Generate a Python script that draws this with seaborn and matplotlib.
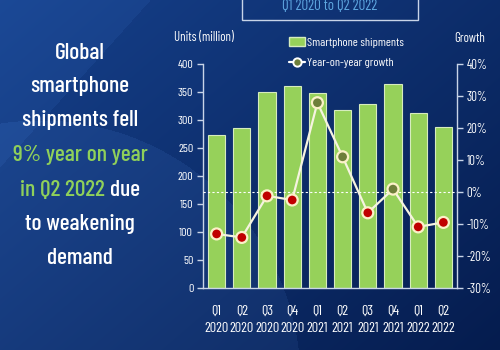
import numpy as np
import pandas as pd
import matplotlib
matplotlib.use("Agg")
import matplotlib.pyplot as plt
import seaborn as sns
from matplotlib.lines import Line2D
from matplotlib.patches import Patch, Rectangle
from matplotlib import font_manager
from matplotlib.textpath import TextPath
from matplotlib.font_manager import FontProperties

quarters = ["Q1\n2020", "Q2\n2020", "Q3\n2020", "Q4\n2020", "Q1\n2021",
            "Q2\n2021", "Q3\n2021", "Q4\n2021", "Q1\n2022", "Q2\n2022"]
shipments = [274, 286, 350, 361, 349, 317, 328, 365, 312, 288]
growth = [-13.1, -14.2, -1.2, -2.5, 27.9, 11.0, -6.5, 0.9, -10.9, -9.5]
left_ticks = [0, 50, 100, 150, 200, 250, 300, 350, 400]
right_ticks = [-30, -20, -10, 0, 10, 20, 30, 40]

sns.set_theme(style="white")
names = {f.name for f in font_manager.fontManager.ttflist}
fam = "DejaVu Sans"
for cand in ["Barlow Condensed", "Roboto Condensed", "Asap Condensed", "Archivo Narrow",
             "Liberation Sans Narrow", "Carlito"]:
    if cand in names:
        fam = cand
        break
plt.rcParams["font.family"] = [fam, "DejaVu Sans"]
plt.rcParams["font.weight"] = "normal"

W, H = 500, 350
fig = plt.figure(figsize=(5, 3.5), dpi=100)
renderer = fig.canvas.get_renderer()
fp = FontProperties(family=[fam, "DejaVu Sans"])
cap10 = TextPath((0, 0), "H", size=10, prop=fp).get_extents().height * 100 / 72.0


def cap_fit(px):
    return 10.0 * px / cap10


fs_xt = cap_fit(10.0)
fs_yt = cap_fit(8.5)
fs_rt = cap_fit(9.0)
fs_lab = cap_fit(9.0)
fs_leg = cap_fit(8.6)
fs_big = cap_fit(16.5)
fs_title = cap_fit(10.5)

# background gradient
bg = fig.add_axes([0, 0, 1, 1], zorder=-10)
yy, xx = np.mgrid[0:H, 0:W]
c1 = np.array([0x16, 0x41, 0x8c]) / 255.0
c2 = np.array([0x05, 0x1c, 0x4e]) / 255.0
t = np.clip((xx / W) * 0.55 + (yy / H) * 0.45, 0, 1)[..., None]
img = c1 * (1 - t) + c2 * t
d = np.sqrt(((xx - 40) / 260.0) ** 2 + ((yy - 380) / 260.0) ** 2)
img = img + (d < 1)[..., None] * np.array([0.03, 0.04, 0.05])
img = img + ((xx + yy * 0.9) < 150)[..., None] * np.array([0.02, 0.03, 0.04])
img = np.clip(img, 0, 1)
bg.imshow(img, extent=[0, W, H, 0], aspect="auto")
bg.set_xlim(0, W); bg.set_ylim(H, 0); bg.axis("off")
bg.add_patch(Rectangle((242, -10), 176, 30, fill=False, ec="#c8d4e8", lw=1.0))
bg.text(330, 9.5, "Q1 2020 to Q2 2022", color="#5ea6e0", fontsize=fs_title, ha="center", va="baseline")

ax = fig.add_axes([203 / W, 1 - 288 / H, 254 / W, 224 / H])
ax.patch.set_alpha(0)
df = pd.DataFrame({"quarter": quarters, "shipments": shipments, "growth": growth})
sns.barplot(data=df, x="quarter", y="shipments", color="#96d15a", width=0.69,
            edgecolor="#d6ecbe", linewidth=0.8, saturation=1, ax=ax)
ax.set_ylim(0, 400)
ax.set_xlim(-0.54, 9.54)
ax.set_yticks(left_ticks)
ax.set_xlabel(""); ax.set_ylabel("")
for s in ["left", "bottom"]:
    ax.spines[s].set_color("#c8d4e8"); ax.spines[s].set_linewidth(1)
ax.spines["top"].set_visible(False); ax.spines["right"].set_visible(False)
ax.tick_params(axis="y", colors="#c8d4e8", labelcolor="white", direction="out",
               length=4, width=1, left=True, labelsize=fs_yt, pad=3)
ax.tick_params(axis="x", length=0, labelcolor="white", labelsize=fs_xt, pad=12)
for lab in ax.get_xticklabels():
    lab.set_linespacing(1.45)

ax2 = ax.twinx()
ax2.set_ylim(-30, 40)
ax2.set_yticks(right_ticks)
ax2.set_yticklabels([f"{v}%" for v in right_ticks])
ax2.axhline(0, color="white", lw=0.8, ls=(0, (2, 2)), zorder=1)
sns.lineplot(x=np.arange(len(growth)), y=growth, color="#f6f3e0", lw=1.6, ax=ax2, zorder=2)
df["sign"] = np.where(df["growth"] >= 0, "pos", "neg")
df["xpos"] = np.arange(len(growth))
sns.scatterplot(data=df, x="xpos", y="growth", hue="sign",
                palette={"pos": "#6e7f3a", "neg": "#c00000"}, s=62,
                edgecolor="#fbf1c8", linewidth=1.6, legend=False, ax=ax2, zorder=3)
ax2.set_xlabel(""); ax2.set_ylabel("")
for s in ["left", "bottom", "top"]:
    ax2.spines[s].set_visible(False)
ax2.spines["right"].set_color("#c8d4e8"); ax2.spines["right"].set_linewidth(1)
ax2.tick_params(axis="y", colors="#c8d4e8", labelcolor="white", direction="out",
                length=4, width=1, right=True, labelsize=fs_rt, pad=3)
ax2.set_xlim(-0.54, 9.54)

fig.text(204 / W, 1 - 38 / H, "Units (million)", color="white", fontsize=fs_lab, ha="center", va="center")
fig.text(470 / W, 1 - 38 / H, "Growth", color="white", fontsize=fs_lab, ha="center", va="center")

handles = [Patch(facecolor="#96d15a", edgecolor="#d6ecbe"),
           Line2D([0], [0], color="white", lw=1.6, marker="o", markersize=6,
                  markerfacecolor="#6e7f3a", markeredgecolor="white", markeredgewidth=1.4)]
leg = ax.legend(handles, ["Smartphone shipments", "Year-on-year growth"], loc="upper left",
                bbox_to_anchor=(289 / W, 1 - 37 / H), bbox_transform=fig.transFigure,
                frameon=False, fontsize=fs_leg, handlelength=1.3, handleheight=0.8,
                handletextpad=0.2, labelspacing=0.75, borderpad=0, borderaxespad=0)
for tx in leg.get_texts():
    tx.set_color("white")

green = "#8fd05a"
cx = 80 / W
lines = [("Global", 53, None), ("smartphone", 86, None), ("shipments fell", 120, None),
         ("9% year on year", 155, "green"), ("in Q2 2022 due", 190, "split"),
         ("to weakening", 224, None), ("demand", 258, None)]
for txt, y, kind in lines:
    yf = 1 - y / H
    if kind == "split":
        full = fig.text(cx, yf, txt, fontsize=fs_big, ha="center", va="center",
                        color="white", alpha=0, weight="medium")
        bb = full.get_window_extent(renderer)
        fig.text(bb.x0 / fig.bbox.width, yf, "in Q2 2022", fontsize=fs_big, ha="left",
                 va="center", color=green, weight="medium")
        fig.text(bb.x1 / fig.bbox.width, yf, "due", fontsize=fs_big, ha="right",
                 va="center", color="white", weight="medium")
    else:
        fig.text(cx, yf, txt, fontsize=fs_big, ha="center", va="center", weight="medium",
                 color=green if kind == "green" else "white")

fig.savefig("out.png", dpi=100)
